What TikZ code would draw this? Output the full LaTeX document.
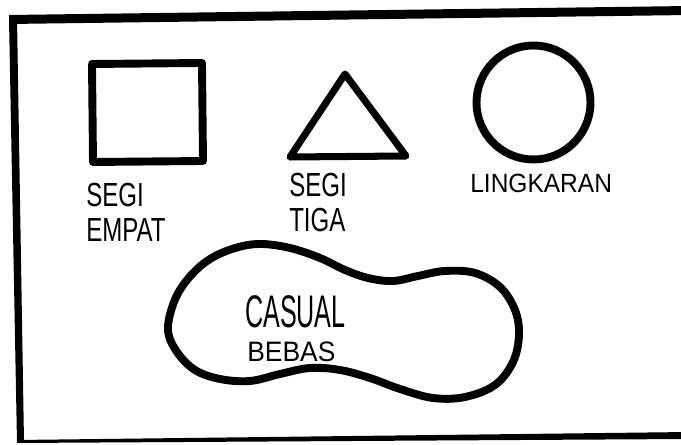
\documentclass[tikz,border=0pt]{standalone}
\usepackage{fontspec}
\setmainfont{Liberation Sans}
\usetikzlibrary{positioning}
\tikzset{
  frame/.style={fill=black},
  outline/.style={draw=black, line width=4.5pt, line join=round, line cap=round},
  hand/.style={inner sep=0pt, anchor=north west},
  big/.style={hand, align=left, xscale=0.72, font=\fontsize{19}{20}\selectfont},
}

\begin{document}
\begin{tikzpicture}[x=0.02cm, y=-0.02cm]
\useasboundingbox (0,0) rectangle (681,445);
\clip (0,0) rectangle (681,445);

% --- FRAME ---
\fill[frame] (9,15) -- (690,6) -- (690,15) -- (9,24) -- cycle;
\fill[frame] (9,18) -- (17,18) -- (24,442) -- (17,443) -- cycle;
\fill[frame] (17,440) -- (690,432) -- (690,439) -- (17,443) -- cycle;

% --- SHAPES ---
\draw[outline] (92,64) -- (202,63) -- (203,161) -- (93,162) -- cycle;
\draw[outline, line width=4pt] (345,74) -- (406,156) -- (290,157) -- cycle;
\draw[outline] (533.5,102.5) circle (57);

\draw[outline] plot[smooth cycle, tension=0.6] coordinates {
  (168,330) (174,302) (187,280) (207,261) (232,249) (259,244) (290,248)
  (320,258) (345,270) (368,278) (393,281) (418,276) (445,271) (475,273)
  (500,287) (515,310) (519,335) (513,362) (495,385) (465,397) (433,398)
  (400,389) (370,378) (340,370) (310,368) (280,374) (250,381) (220,379)
  (195,370) (177,352)};

% --- LABELS ---
\node[big] (empat) at (86,183) {SEGI\\EMPAT};
\node[big] (tiga) at (289,173) {SEGI\\TIGA};
\node[hand, xscale=0.93, font=\fontsize{15}{15}\selectfont] (lingkaran) at (470,174) {LINGKARAN};

\node[hand, xscale=0.55, font=\fontsize{26}{26}\selectfont] (casual) at (245,295) {CASUAL};
\node[hand, xscale=0.94, font=\fontsize{16}{16}\selectfont] (bebas) at (247,342) {BEBAS};

\end{tikzpicture}
\end{document}
